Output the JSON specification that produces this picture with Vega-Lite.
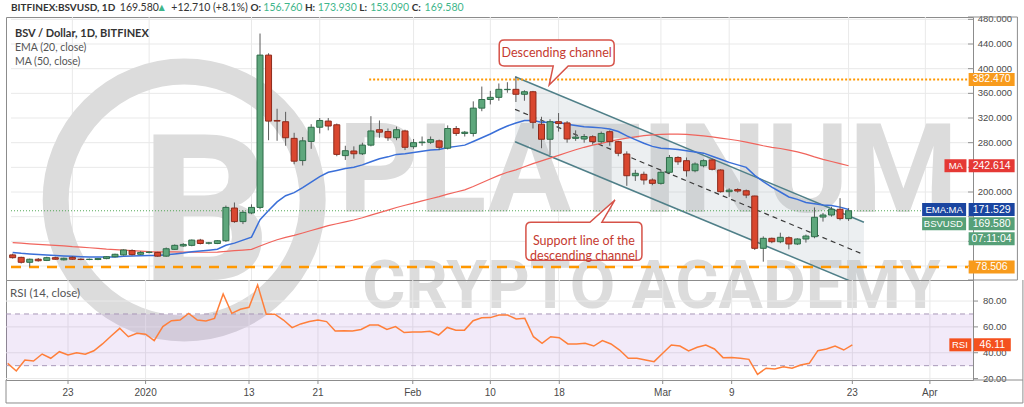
{
"$schema":"https://vega.github.io/schema/vega-lite/v6.json",
"background":"#ffffff",
"padding":{"left":3,"top":2,"right":2,"bottom":2},
"spacing":0,
"bounds":"flush",
"config":{"view":{"stroke":"#8c8c8c","strokeWidth":1}},
"datasets":{
"candles":[
{"date":"2019-12-16T00:00","o":98,"h":100,"l":92,"c":93.5,"ema":102,"ma":117.8,"rsi":31.8},
{"date":"2019-12-17T00:00","o":94,"h":95,"l":84,"c":86,"ema":100.5,"ma":117,"rsi":25.9},
{"date":"2019-12-18T00:00","o":86,"h":92,"l":79,"c":91,"ema":99.5,"ma":116,"rsi":34.4},
{"date":"2019-12-19T00:00","o":91,"h":93,"l":87,"c":88.5,"ema":98.5,"ma":115,"rsi":33.6},
{"date":"2019-12-20T00:00","o":89,"h":95,"l":88,"c":93.5,"ema":97.7,"ma":114.2,"rsi":39},
{"date":"2019-12-21T00:00","o":93.5,"h":95,"l":90,"c":91,"ema":97,"ma":113.5,"rsi":35.7},
{"date":"2019-12-22T00:00","o":90,"h":93.5,"l":89,"c":92.5,"ema":96.3,"ma":112.5,"rsi":40.8},
{"date":"2019-12-23T00:00","o":94,"h":96,"l":90,"c":91,"ema":95.8,"ma":111.3,"rsi":38.3},
{"date":"2019-12-24T00:00","o":91,"h":92.5,"l":89.5,"c":90.5,"ema":95.2,"ma":110.5,"rsi":40},
{"date":"2019-12-25T00:00","o":90.5,"h":92,"l":89.5,"c":91,"ema":94.7,"ma":109.6,"rsi":38.8},
{"date":"2019-12-26T00:00","o":90.5,"h":93,"l":89.5,"c":92,"ema":94.4,"ma":108.5,"rsi":41.5},
{"date":"2019-12-27T00:00","o":92,"h":96,"l":91,"c":95,"ema":94.4,"ma":107.3,"rsi":46.8},
{"date":"2019-12-28T00:00","o":95,"h":100,"l":94,"c":99,"ema":94.8,"ma":106.5,"rsi":53},
{"date":"2019-12-29T00:00","o":98,"h":107,"l":97,"c":106,"ema":95.8,"ma":105.6,"rsi":58.9},
{"date":"2019-12-30T00:00","o":105,"h":107,"l":97,"c":98.5,"ema":96.1,"ma":104.8,"rsi":52.4},
{"date":"2019-12-31T00:00","o":99,"h":104,"l":98,"c":102,"ema":96.7,"ma":104,"rsi":55},
{"date":"2020-01-01T00:00","o":102,"h":104,"l":100.5,"c":102.5,"ema":97.2,"ma":103.3,"rsi":54.3},
{"date":"2020-01-02T00:00","o":102,"h":103,"l":95,"c":96,"ema":97.1,"ma":103,"rsi":49.4},
{"date":"2020-01-03T00:00","o":96,"h":110,"l":95,"c":108,"ema":98.1,"ma":103,"rsi":60.2},
{"date":"2020-01-04T00:00","o":107,"h":115,"l":106,"c":113.5,"ema":99.6,"ma":102.8,"rsi":64.8},
{"date":"2020-01-05T00:00","o":112.5,"h":117,"l":111,"c":115,"ema":101.1,"ma":102.6,"rsi":65.3},
{"date":"2020-01-06T00:00","o":113.5,"h":123,"l":112,"c":122,"ema":103.1,"ma":102.4,"rsi":70.5},
{"date":"2020-01-07T00:00","o":122,"h":124,"l":115,"c":116.5,"ema":104.4,"ma":102.3,"rsi":65.3},
{"date":"2020-01-08T00:00","o":117,"h":119,"l":115,"c":117.5,"ema":105.6,"ma":102.3,"rsi":64.6},
{"date":"2020-01-09T00:00","o":116.5,"h":122,"l":115.5,"c":121,"ema":107.1,"ma":102.5,"rsi":66.6},
{"date":"2020-01-10T00:00","o":121,"h":178,"l":119,"c":175,"ema":113.6,"ma":103.8,"rsi":85.5},
{"date":"2020-01-11T00:00","o":174,"h":183,"l":150,"c":152,"ema":117.1,"ma":104.8,"rsi":70.5},
{"date":"2020-01-12T00:00","o":152,"h":170,"l":148,"c":167,"ema":121.9,"ma":105.8,"rsi":73.6},
{"date":"2020-01-13T00:00","o":166,"h":180,"l":164,"c":175,"ema":126.9,"ma":107,"rsi":75.2},
{"date":"2020-01-14T00:00","o":175,"h":457,"l":172,"c":422,"ema":155,"ma":112.5,"rsi":92.4},
{"date":"2020-01-15T00:00","o":422,"h":425,"l":284,"c":315,"ema":170,"ma":117.8,"rsi":69.8},
{"date":"2020-01-16T00:00","o":316,"h":335,"l":283,"c":315,"ema":184,"ma":122.5,"rsi":69.8},
{"date":"2020-01-17T00:00","o":314,"h":330,"l":275,"c":288,"ema":194,"ma":126.5,"rsi":65.3},
{"date":"2020-01-18T00:00","o":287,"h":296,"l":245,"c":250,"ema":199,"ma":129.7,"rsi":59.4},
{"date":"2020-01-19T00:00","o":251,"h":289,"l":243,"c":283,"ema":207,"ma":133.5,"rsi":62.3},
{"date":"2020-01-20T00:00","o":282,"h":310,"l":270,"c":305,"ema":216,"ma":137.5,"rsi":64.1},
{"date":"2020-01-21T00:00","o":305,"h":320,"l":295,"c":316,"ema":225,"ma":141.5,"rsi":65.3},
{"date":"2020-01-22T00:00","o":315,"h":320,"l":300,"c":307,"ema":232,"ma":145.5,"rsi":64.1},
{"date":"2020-01-23T00:00","o":309,"h":311,"l":258,"c":261,"ema":235,"ma":148.5,"rsi":56.8},
{"date":"2020-01-24T00:00","o":259,"h":275,"l":252,"c":267,"ema":238,"ma":151.5,"rsi":57},
{"date":"2020-01-25T00:00","o":266.5,"h":274,"l":254,"c":262,"ema":240,"ma":154.6,"rsi":56.8},
{"date":"2020-01-26T00:00","o":262,"h":280,"l":260,"c":276,"ema":244,"ma":158.2,"rsi":58},
{"date":"2020-01-27T00:00","o":276,"h":323,"l":274,"c":299,"ema":249,"ma":162.5,"rsi":61.5},
{"date":"2020-01-28T00:00","o":301,"h":316,"l":288,"c":297,"ema":254,"ma":166.5,"rsi":61.5},
{"date":"2020-01-29T00:00","o":298,"h":303,"l":283,"c":288,"ema":257,"ma":170.5,"rsi":58},
{"date":"2020-01-30T00:00","o":288,"h":306,"l":284,"c":301,"ema":261,"ma":174.8,"rsi":60.2},
{"date":"2020-01-31T00:00","o":299,"h":301,"l":268,"c":272.5,"ema":262,"ma":178.5,"rsi":55.6},
{"date":"2020-02-01T00:00","o":273.5,"h":286,"l":270,"c":280,"ema":264,"ma":182,"rsi":56},
{"date":"2020-02-02T00:00","o":280,"h":290,"l":275,"c":281,"ema":266,"ma":185.5,"rsi":56},
{"date":"2020-02-03T00:00","o":280.6,"h":290,"l":278,"c":285,"ema":268,"ma":189,"rsi":56.6},
{"date":"2020-02-04T00:00","o":283,"h":285,"l":268,"c":272.5,"ema":269,"ma":192.5,"rsi":53.7},
{"date":"2020-02-05T00:00","o":271,"h":308,"l":269,"c":303,"ema":272,"ma":196.5,"rsi":59.6},
{"date":"2020-02-06T00:00","o":303,"h":307,"l":291,"c":295,"ema":274,"ma":200,"rsi":57.5},
{"date":"2020-02-07T00:00","o":295,"h":299,"l":290,"c":297,"ema":276,"ma":203.5,"rsi":57.5},
{"date":"2020-02-08T00:00","o":295,"h":347,"l":290,"c":336,"ema":282,"ma":209,"rsi":64.8},
{"date":"2020-02-09T00:00","o":336,"h":371,"l":331,"c":350,"ema":288,"ma":215,"rsi":67},
{"date":"2020-02-10T00:00","o":350,"h":364,"l":342,"c":353.5,"ema":294,"ma":221,"rsi":67.2},
{"date":"2020-02-11T00:00","o":353.5,"h":376,"l":348,"c":366.5,"ema":301,"ma":227,"rsi":69.2},
{"date":"2020-02-12T00:00","o":366,"h":378,"l":361,"c":366.5,"ema":307,"ma":232,"rsi":69.2},
{"date":"2020-02-13T00:00","o":366.5,"h":387,"l":346,"c":358.5,"ema":312,"ma":236,"rsi":66.1},
{"date":"2020-02-14T00:00","o":358.5,"h":365,"l":348,"c":362.6,"ema":316,"ma":241,"rsi":66.6},
{"date":"2020-02-15T00:00","o":362.6,"h":364,"l":303,"c":313,"ema":316,"ma":246,"rsi":52.4},
{"date":"2020-02-16T00:00","o":310,"h":322,"l":271,"c":285.5,"ema":313,"ma":250.5,"rsi":47.3},
{"date":"2020-02-17T00:00","o":285.5,"h":318,"l":260,"c":314,"ema":313,"ma":255,"rsi":52.4},
{"date":"2020-02-18T00:00","o":314,"h":328,"l":298,"c":311,"ema":313,"ma":259.5,"rsi":51.6},
{"date":"2020-02-19T00:00","o":312,"h":315,"l":280,"c":286,"ema":310,"ma":264,"rsi":46.8},
{"date":"2020-02-20T00:00","o":287,"h":300,"l":283,"c":289,"ema":308,"ma":268.5,"rsi":46.8},
{"date":"2020-02-21T00:00","o":286,"h":294,"l":280,"c":290,"ema":306,"ma":272.5,"rsi":47.3},
{"date":"2020-02-22T00:00","o":289.7,"h":292,"l":277,"c":281.6,"ema":305,"ma":276,"rsi":45.2},
{"date":"2020-02-23T00:00","o":281.6,"h":298,"l":279,"c":295,"ema":304,"ma":279,"rsi":49.4},
{"date":"2020-02-24T00:00","o":297.8,"h":300,"l":275,"c":281.6,"ema":302,"ma":282,"rsi":46.8},
{"date":"2020-02-25T00:00","o":281.6,"h":283,"l":258,"c":262.8,"ema":298,"ma":285,"rsi":42.1},
{"date":"2020-02-26T00:00","o":261.6,"h":266,"l":210,"c":226.4,"ema":291,"ma":287.3,"rsi":35.7},
{"date":"2020-02-27T00:00","o":226.4,"h":236,"l":218,"c":230.3,"ema":285,"ma":289.5,"rsi":35.7},
{"date":"2020-02-28T00:00","o":228.7,"h":233,"l":212,"c":219.5,"ema":279,"ma":291.5,"rsi":34.4},
{"date":"2020-02-29T00:00","o":219.5,"h":222,"l":211,"c":214,"ema":274,"ma":292.6,"rsi":33.1},
{"date":"2020-03-01T00:00","o":214,"h":236,"l":212,"c":232,"ema":271,"ma":293.5,"rsi":39.6},
{"date":"2020-03-02T00:00","o":232,"h":260,"l":229,"c":256,"ema":270,"ma":294,"rsi":46},
{"date":"2020-03-03T00:00","o":256,"h":258,"l":244,"c":249,"ema":269,"ma":294,"rsi":45.2},
{"date":"2020-03-04T00:00","o":250.8,"h":256,"l":225,"c":234.5,"ema":267,"ma":293.3,"rsi":41.4},
{"date":"2020-03-05T00:00","o":234.5,"h":248,"l":232,"c":245.4,"ema":265,"ma":292.3,"rsi":44.2},
{"date":"2020-03-06T00:00","o":242.6,"h":253,"l":240,"c":250.8,"ema":263,"ma":291,"rsi":46},
{"date":"2020-03-07T00:00","o":252,"h":254,"l":235,"c":236.8,"ema":258,"ma":289.5,"rsi":42.9},
{"date":"2020-03-08T00:00","o":235.7,"h":237,"l":199,"c":200.5,"ema":253,"ma":287.5,"rsi":36.2},
{"date":"2020-03-09T00:00","o":200.5,"h":206,"l":192,"c":203,"ema":248,"ma":285.5,"rsi":36.4},
{"date":"2020-03-10T00:00","o":204,"h":206,"l":199,"c":201.6,"ema":244,"ma":283.5,"rsi":35.7},
{"date":"2020-03-11T00:00","o":202,"h":204,"l":190,"c":195,"ema":240,"ma":281,"rsi":34.9},
{"date":"2020-03-12T00:00","o":193.5,"h":194,"l":106,"c":108.7,"ema":227,"ma":278,"rsi":23.3},
{"date":"2020-03-13T00:00","o":108.7,"h":128,"l":87,"c":124.9,"ema":217,"ma":275,"rsi":28},
{"date":"2020-03-14T00:00","o":124.9,"h":126,"l":117,"c":119.4,"ema":208,"ma":272.5,"rsi":27.5},
{"date":"2020-03-15T00:00","o":119.4,"h":134,"l":117,"c":126.5,"ema":200,"ma":270.5,"rsi":29.2},
{"date":"2020-03-16T00:00","o":125.9,"h":128,"l":107,"c":115.7,"ema":192,"ma":268,"rsi":28},
{"date":"2020-03-17T00:00","o":115.7,"h":125,"l":114,"c":123.8,"ema":188,"ma":265,"rsi":30.5},
{"date":"2020-03-18T00:00","o":123.8,"h":131,"l":118,"c":128.6,"ema":183,"ma":261.5,"rsi":31.8},
{"date":"2020-03-19T00:00","o":127.5,"h":175,"l":125,"c":159,"ema":181,"ma":257,"rsi":41.6},
{"date":"2020-03-20T00:00","o":159.4,"h":166,"l":152,"c":162.7,"ema":179,"ma":253,"rsi":42.9},
{"date":"2020-03-21T00:00","o":162.7,"h":176,"l":160,"c":172,"ema":178,"ma":249.5,"rsi":45.2},
{"date":"2020-03-22T00:00","o":172,"h":190,"l":154,"c":156.9,"ema":175.5,"ma":246,"rsi":42.1},
{"date":"2020-03-23T00:00","o":156.76,"h":173.93,"l":153.09,"c":169.58,"ema":171.5,"ma":242.6,"rsi":46.11}
],
"labels":[
{"date":"2019-12-15T19:20","price":498.4,"txt":"BITFINEX:BSVUSD, 1D","kind":"symbol"},
{"date":"2019-12-28T13:35","price":498.4,"txt":"169.580","kind":"last"},
{"date":"2020-01-01T20:36","price":498.4,"txt":"▲","kind":"arrow"},
{"date":"2020-01-03T14:24","price":498.4,"txt":"+12.710 (+8.1%)","kind":"change"},
{"date":"2020-01-12T21:07","price":498.4,"txt":"O:","kind":"ohlcKey"},
{"date":"2020-01-14T09:20","price":498.4,"txt":"156.760","kind":"ohlcVal"},
{"date":"2020-01-19T06:14","price":498.4,"txt":"H:","kind":"ohlcKey"},
{"date":"2020-01-20T18:30","price":498.4,"txt":"173.930","kind":"ohlcVal"},
{"date":"2020-01-25T15:22","price":498.4,"txt":"L:","kind":"ohlcKey"},
{"date":"2020-01-26T21:50","price":498.4,"txt":"153.090","kind":"ohlcVal"},
{"date":"2020-01-31T18:43","price":498.4,"txt":"C:","kind":"ohlcKey"},
{"date":"2020-02-02T06:58","price":498.4,"txt":"169.580","kind":"ohlcVal"},
{"date":"2019-12-16T06:18","price":456.2,"txt":"BSV / Dollar, 1D, BITFINEX","kind":"paneTitle"},
{"date":"2019-12-16T06:18","price":433.5,"txt":"EMA (20, close)","kind":"indicator"},
{"date":"2019-12-16T06:18","price":410.8,"txt":"MA (50, close)","kind":"indicator"}
],
"gridDates":[
{"date":"2019-12-23T00:00","label":"23"},{"date":"2020-01-01T00:00","label":"2020"},{"date":"2020-01-13T00:00","label":"13"},{"date":"2020-01-21T00:00","label":"21"},{"date":"2020-02-01T00:00","label":"Feb"},{"date":"2020-02-10T00:00","label":"10"},{"date":"2020-02-18T00:00","label":"18"},{"date":"2020-03-01T00:00","label":"Mar"},{"date":"2020-03-09T00:00","label":"9"},{"date":"2020-03-23T00:00","label":"23"},{"date":"2020-04-01T00:00","label":"Apr"}
],
"gridPrice":[{"v":80},{"v":120},{"v":160},{"v":200},{"v":240},{"v":280},{"v":320},{"v":360},{"v":400},{"v":440},{"v":480}],
"gridRsi":[{"v":20},{"v":40},{"v":60},{"v":80}],
"channel":[
{"date":"2020-02-12T21:36","up":387,"lo":281.6,"mid":334},
{"date":"2020-03-24T19:12","up":151,"lo":46.4,"mid":98.4}
],
"callouts":[
{"kind":"channel","date":"2020-02-17T18:43","price":425.4,"txt":"Descending channel"},
{"kind":"support","date":"2020-02-20T23:20","price":120.2,"txt":["Support line of the","descending channel"]}
],
"tags":[
{"tag":"level","value":382.47,"txt":"382.470"},
{"tag":"MA","value":242.614,"txt":"242.614"},
{"tag":"EMA","value":171.529,"txt":"171.529"},
{"tag":"BSVUSD","value":169.58,"txt":"169.580"},
{"tag":"countdown","value":169.58,"txt":"07:11:04"},
{"tag":"level","value":78.506,"txt":"78.506"}
],
"names":[
{"tag":"MA","value":242.614,"txt":"MA"},
{"tag":"EMA","value":171.529,"txt":"EMA:MA"},
{"tag":"BSVUSD","value":169.58,"txt":"BSVUSD"}
],
"frameP":[
{"x":"2020-04-06T00:00","x2":"2020-04-11T19:00","y":483.8,"y2":483.8},
{"x":"2020-04-06T00:00","x2":"2020-04-11T19:00","y":57.3,"y2":57.3},
{"x":"2020-04-11T19:00","x2":"2020-04-11T19:00","y":57.3,"y2":483.8}
],
"frameR":[
{"x":"2020-04-06T00:00","x2":"2020-04-11T19:00","y":18.9,"y2":18.9},
{"x":"2020-04-11T19:00","x2":"2020-04-11T19:00","y":1.1,"y2":96.3},
{"x":"2019-12-15T19:20","x2":"2020-04-11T19:00","y":1.1,"y2":1.1},
{"x":"2019-12-15T19:20","x2":"2019-12-15T19:20","y":1.1,"y2":18.9}
]
},
"vconcat":[
{
"width":967,"height":263,
"layer":[
{"data":{"name":"gridPrice"},"mark":{"type":"rule","color":"#e9e9e9","strokeWidth":1},
"encoding":{"x":{"datum":{"year":2019,"month":12,"date":15,"hours":19,"minutes":20},"type":"temporal","scale":{"domain":[{"year":2019,"month":12,"date":15,"hours":19,"minutes":20},{"year":2020,"month":4,"date":6}]},"axis":null},"x2":{"datum":{"year":2020,"month":4,"date":6}},"y":{"field":"v","type":"quantitative","scale":{"domain":[57.3,483.8],"zero":false,"nice":false},"axis":null}}},
{"data":{"name":"gridDates"},"mark":{"type":"rule","color":"#e9e9e9","strokeWidth":1},
"encoding":{"x":{"field":"date","type":"temporal","scale":{"domain":[{"year":2019,"month":12,"date":15,"hours":19,"minutes":20},{"year":2020,"month":4,"date":6}]},"axis":null},"y":{"datum":57.3,"type":"quantitative","scale":{"domain":[57.3,483.8],"zero":false,"nice":false},"axis":null},"y2":{"datum":483.8}}},
{"data":{"values":[{}]},"mark":{"type":"point","shape":"circle","size":66052,"filled":false,"color":"#dcdcdc","strokeWidth":26,"opacity":1},
"encoding":{"x":{"datum":{"year":2020,"month":1,"date":5,"hours":2,"minutes":34},"type":"temporal","scale":{"domain":[{"year":2019,"month":12,"date":15,"hours":19,"minutes":20},{"year":2020,"month":4,"date":6}]},"axis":null},
"y":{"datum":187,"type":"quantitative","scale":{"domain":[57.3,483.8],"zero":false,"nice":false},"axis":null}}},
{"data":{"values":[{}]},"mark":{"type":"text","text":"B","font":"Roboto","fontWeight":"bold","fontSize":205,"color":"#dcdcdc","align":"center","baseline":"alphabetic"},
"encoding":{"x":{"datum":{"year":2020,"month":1,"date":7,"hours":16},"type":"temporal","scale":{"domain":[{"year":2019,"month":12,"date":15,"hours":19,"minutes":20},{"year":2020,"month":4,"date":6}]},"axis":null},"y":{"datum":57.3,"type":"quantitative","scale":{"domain":[57.3,483.8],"zero":false,"nice":false},"axis":null}}},
{"data":{"values":[{}]},"mark":{"type":"text","text":"PLATINUM","font":"Roboto","fontWeight":"bold","fontSize":125,"color":"#dcdcdc","align":"center","baseline":"alphabetic"},
"encoding":{"x":{"datum":{"year":2020,"month":2,"date":28,"hours":12},"type":"temporal","scale":{"domain":[{"year":2019,"month":12,"date":15,"hours":19,"minutes":20},{"year":2020,"month":4,"date":6}]},"axis":null},"y":{"datum":167.6,"type":"quantitative","scale":{"domain":[57.3,483.8],"zero":false,"nice":false},"axis":null}}},
{"data":{"values":[{}]},"mark":{"type":"text","text":"CRYPTO ACADEMY","font":"Roboto","fontWeight":"bold","fontSize":66,"color":"#dcdcdc","align":"center","baseline":"alphabetic"},
"encoding":{"x":{"datum":{"year":2020,"month":2,"date":28,"hours":21,"minutes":30},"type":"temporal","scale":{"domain":[{"year":2019,"month":12,"date":15,"hours":19,"minutes":20},{"year":2020,"month":4,"date":6}]},"axis":null},"y":{"datum":11.9,"type":"quantitative","scale":{"domain":[57.3,483.8],"zero":false,"nice":false},"axis":null}}},
{"data":{"name":"channel"},"mark":{"type":"area","color":"#aab4be","opacity":0.22,"clip":true},
"encoding":{"x":{"field":"date","type":"temporal","scale":{"domain":[{"year":2019,"month":12,"date":15,"hours":19,"minutes":20},{"year":2020,"month":4,"date":6}]},"axis":null},"y":{"field":"up","type":"quantitative","scale":{"domain":[57.3,483.8],"zero":false,"nice":false},"axis":null},"y2":{"field":"lo"}}},
{"data":{"name":"channel"},"mark":{"type":"line","color":"#4f7f88","strokeWidth":1.5},
"encoding":{"x":{"field":"date","type":"temporal","scale":{"domain":[{"year":2019,"month":12,"date":15,"hours":19,"minutes":20},{"year":2020,"month":4,"date":6}]},"axis":null},"y":{"field":"up","type":"quantitative","scale":{"domain":[57.3,483.8],"zero":false,"nice":false},"axis":null}}},
{"data":{"name":"channel"},"mark":{"type":"line","color":"#4f7f88","strokeWidth":1.5,"clip":true},
"encoding":{"x":{"field":"date","type":"temporal","scale":{"domain":[{"year":2019,"month":12,"date":15,"hours":19,"minutes":20},{"year":2020,"month":4,"date":6}]},"axis":null},"y":{"field":"lo","type":"quantitative","scale":{"domain":[57.3,483.8],"zero":false,"nice":false},"axis":null}}},
{"data":{"name":"channel"},"mark":{"type":"line","color":"#3a3a3a","strokeWidth":1.2,"strokeDash":[5,4]},
"encoding":{"x":{"field":"date","type":"temporal","scale":{"domain":[{"year":2019,"month":12,"date":15,"hours":19,"minutes":20},{"year":2020,"month":4,"date":6}]},"axis":null},"y":{"field":"mid","type":"quantitative","scale":{"domain":[57.3,483.8],"zero":false,"nice":false},"axis":null}}},
{"data":{"values":[{}]},"mark":{"type":"rule","color":"#ff9800","strokeWidth":2,"strokeDash":[2,2]},
"encoding":{"x":{"datum":{"year":2020,"month":1,"date":26,"hours":19},"type":"temporal","scale":{"domain":[{"year":2019,"month":12,"date":15,"hours":19,"minutes":20},{"year":2020,"month":4,"date":6}]},"axis":null},"x2":{"datum":{"year":2020,"month":4,"date":6}},"y":{"datum":382.47,"type":"quantitative","scale":{"domain":[57.3,483.8],"zero":false,"nice":false},"axis":null}}},
{"data":{"values":[{}]},"mark":{"type":"rule","color":"#ff9800","strokeWidth":2.5,"strokeDash":[10,8]},
"encoding":{"x":{"datum":{"year":2019,"month":12,"date":15,"hours":19,"minutes":20},"type":"temporal","scale":{"domain":[{"year":2019,"month":12,"date":15,"hours":19,"minutes":20},{"year":2020,"month":4,"date":6}]},"axis":null},"x2":{"datum":{"year":2020,"month":4,"date":6}},"y":{"datum":78.506,"type":"quantitative","scale":{"domain":[57.3,483.8],"zero":false,"nice":false},"axis":null}}},
{"data":{"values":[{}]},"mark":{"type":"rule","color":"#43a047","strokeWidth":1,"strokeDash":[1,2],"opacity":0.9},
"encoding":{"x":{"datum":{"year":2019,"month":12,"date":15,"hours":19,"minutes":20},"type":"temporal","scale":{"domain":[{"year":2019,"month":12,"date":15,"hours":19,"minutes":20},{"year":2020,"month":4,"date":6}]},"axis":null},"x2":{"datum":{"year":2020,"month":4,"date":6}},"y":{"datum":169.58,"type":"quantitative","scale":{"domain":[57.3,483.8],"zero":false,"nice":false},"axis":null}}},
{"data":{"name":"candles"},"mark":{"type":"line","color":"#f0645c","strokeWidth":1.2},
"encoding":{"x":{"field":"date","type":"temporal","scale":{"domain":[{"year":2019,"month":12,"date":15,"hours":19,"minutes":20},{"year":2020,"month":4,"date":6}]},"axis":null},"y":{"field":"ma","type":"quantitative","scale":{"domain":[57.3,483.8],"zero":false,"nice":false},"axis":null}}},
{"data":{"name":"candles"},"mark":{"type":"line","color":"#3a6fd8","strokeWidth":1.5},
"encoding":{"x":{"field":"date","type":"temporal","scale":{"domain":[{"year":2019,"month":12,"date":15,"hours":19,"minutes":20},{"year":2020,"month":4,"date":6}]},"axis":null},"y":{"field":"ema","type":"quantitative","scale":{"domain":[57.3,483.8],"zero":false,"nice":false},"axis":null}}},
{"data":{"name":"candles"},"mark":{"type":"rule","color":"#5c5c5c","strokeWidth":1},
"encoding":{"x":{"field":"date","type":"temporal","scale":{"domain":[{"year":2019,"month":12,"date":15,"hours":19,"minutes":20},{"year":2020,"month":4,"date":6}]},"axis":null},"y":{"field":"l","type":"quantitative","scale":{"domain":[57.3,483.8],"zero":false,"nice":false},"axis":null},"y2":{"field":"h"}}},
{"data":{"name":"candles"},"mark":{"type":"bar","width":6,"strokeWidth":1},
"encoding":{"x":{"field":"date","type":"temporal","scale":{"domain":[{"year":2019,"month":12,"date":15,"hours":19,"minutes":20},{"year":2020,"month":4,"date":6}]},"axis":null},"y":{"field":"o","type":"quantitative","scale":{"domain":[57.3,483.8],"zero":false,"nice":false},"axis":null},"y2":{"field":"c"},
"color":{"condition":{"test":"datum.c >= datum.o","value":"#5ea77c"},"value":"#d9472f"},
"stroke":{"condition":{"test":"datum.c >= datum.o","value":"#2f6d4a"},"value":"#8e2b1c"}}},
{"data":{"name":"gridPrice"},"mark":{"type":"rule","color":"#8c8c8c","strokeWidth":1},
"encoding":{"x":{"datum":{"year":2020,"month":4,"date":6},"type":"temporal","scale":{"domain":[{"year":2019,"month":12,"date":15,"hours":19,"minutes":20},{"year":2020,"month":4,"date":6}]},"axis":null},"x2":{"datum":{"year":2020,"month":4,"date":6,"hours":14}},"y":{"field":"v","type":"quantitative","scale":{"domain":[57.3,483.8],"zero":false,"nice":false},"axis":null}}},
{"data":{"name":"gridPrice"},"transform":[{"filter":"datum.v == 200 || datum.v >= 280"}],"mark":{"type":"text","font":"Liberation Sans","fontSize":9.5,"color":"#4a4a4a","align":"left","baseline":"middle"},
"encoding":{"x":{"datum":{"year":2020,"month":4,"date":7,"hours":3,"minutes":30},"type":"temporal","scale":{"domain":[{"year":2019,"month":12,"date":15,"hours":19,"minutes":20},{"year":2020,"month":4,"date":6}]},"axis":null},"y":{"field":"v","type":"quantitative","scale":{"domain":[57.3,483.8],"zero":false,"nice":false},"axis":null},"text":{"field":"v","type":"quantitative","format":".3f"}}},
{"data":{"name":"callouts"},"transform":[{"filter":"datum.kind == 'channel'"}],"mark":{"type":"point","shape":"M -0.875 -0.217 H 0.875 Q 0.958 -0.217 0.958 -0.134 V 0.134 Q 0.958 0.217 0.875 0.217 H 0.192 L -0.125 0.533 L -0.058 0.217 H -0.875 Q -0.958 0.217 -0.958 0.134 V -0.134 Q -0.958 -0.217 -0.875 -0.217 Z","size":14400,"filled":true,"fill":"#ffffff","stroke":"#d65248","strokeWidth":1.5,"opacity":1},
"encoding":{"x":{"field":"date","type":"temporal","scale":{"domain":[{"year":2019,"month":12,"date":15,"hours":19,"minutes":20},{"year":2020,"month":4,"date":6}]},"axis":null},"y":{"field":"price","type":"quantitative","scale":{"domain":[57.3,483.8],"zero":false,"nice":false},"axis":null}}},
{"data":{"name":"callouts"},"transform":[{"filter":"datum.kind == 'support'"}],"mark":{"type":"point","shape":"M -0.883 -0.317 H 0.1 L 0.517 -0.687 L 0.3 -0.317 H 0.883 Q 0.967 -0.317 0.967 -0.233 V 0.233 Q 0.967 0.317 0.883 0.317 H -0.883 Q -0.967 0.317 -0.967 0.233 V -0.233 Q -0.967 -0.317 -0.883 -0.317 Z","size":14400,"filled":true,"fill":"#ffffff","stroke":"#d65248","strokeWidth":1.5,"opacity":1},
"encoding":{"x":{"field":"date","type":"temporal","scale":{"domain":[{"year":2019,"month":12,"date":15,"hours":19,"minutes":20},{"year":2020,"month":4,"date":6}]},"axis":null},"y":{"field":"price","type":"quantitative","scale":{"domain":[57.3,483.8],"zero":false,"nice":false},"axis":null}}},
{"data":{"name":"callouts"},"mark":{"type":"text","font":"Lato","fontSize":12.5,"color":"#c53a30","align":"center","baseline":"middle","lineHeight":15},
"encoding":{"x":{"field":"date","type":"temporal","scale":{"domain":[{"year":2019,"month":12,"date":15,"hours":19,"minutes":20},{"year":2020,"month":4,"date":6}]},"axis":null},"y":{"field":"price","type":"quantitative","scale":{"domain":[57.3,483.8],"zero":false,"nice":false},"axis":null},"text":{"field":"txt"}}},
{"data":{"name":"labels"},"transform":[{"filter":"datum.kind != 'symbol' && datum.kind != 'ohlcKey' && datum.kind != 'paneTitle'"}],"mark":{"type":"text","font":"Lato","fontSize":10.5,"align":"left","baseline":"middle"},
"encoding":{"x":{"field":"date","type":"temporal","scale":{"domain":[{"year":2019,"month":12,"date":15,"hours":19,"minutes":20},{"year":2020,"month":4,"date":6}]},"axis":null},"y":{"field":"price","type":"quantitative","scale":{"domain":[57.3,483.8],"zero":false,"nice":false},"axis":null},"text":{"field":"txt"},
"color":{"condition":[{"test":"datum.kind == 'arrow' || datum.kind == 'ohlcVal'","value":"#3fb68b"},{"test":"datum.kind == 'indicator'","value":"#555555"}],"value":"#333333"}}},
{"data":{"name":"labels"},"transform":[{"filter":"datum.kind == 'symbol' || datum.kind == 'ohlcKey'"}],"mark":{"type":"text","font":"Lato","fontSize":10,"fontWeight":"bold","align":"left","baseline":"middle","color":"#333333"},
"encoding":{"x":{"field":"date","type":"temporal","scale":{"domain":[{"year":2019,"month":12,"date":15,"hours":19,"minutes":20},{"year":2020,"month":4,"date":6}]},"axis":null},"y":{"field":"price","type":"quantitative","scale":{"domain":[57.3,483.8],"zero":false,"nice":false},"axis":null},"text":{"field":"txt"}}},
{"data":{"name":"labels"},"transform":[{"filter":"datum.kind == 'paneTitle'"}],"mark":{"type":"text","font":"Lato","fontSize":11,"fontWeight":"bold","align":"left","baseline":"middle","color":"#333333"},
"encoding":{"x":{"field":"date","type":"temporal","scale":{"domain":[{"year":2019,"month":12,"date":15,"hours":19,"minutes":20},{"year":2020,"month":4,"date":6}]},"axis":null},"y":{"field":"price","type":"quantitative","scale":{"domain":[57.3,483.8],"zero":false,"nice":false},"axis":null},"text":{"field":"txt"}}},
{"data":{"name":"tags"},"transform":[{"filter":"datum.tag == 'level' || datum.tag == 'MA' || datum.tag == 'EMA'"}],"mark":{"type":"point","shape":"M -1 -0.283 H 1 V 0.283 H -1 Z","size":2116,"filled":true,"opacity":1},
"encoding":{"x":{"datum":{"year":2020,"month":4,"date":8,"hours":18,"minutes":30},"type":"temporal","scale":{"domain":[{"year":2019,"month":12,"date":15,"hours":19,"minutes":20},{"year":2020,"month":4,"date":6}]},"axis":null},"y":{"field":"value","type":"quantitative","scale":{"domain":[57.3,483.8],"zero":false,"nice":false},"axis":null},
"color":{"condition":[{"test":"datum.tag == 'MA'","value":"#e53935"},{"test":"datum.tag == 'EMA'","value":"#1a45a0"}],"value":"#f89b1c"}}},
{"data":{"name":"tags"},"transform":[{"filter":"datum.tag == 'BSVUSD'"}],"mark":{"type":"point","shape":"M -1 -0.283 H 1 V 0.283 H -1 Z","size":2116,"filled":true,"opacity":1,"color":"#56a078","yOffset":13},
"encoding":{"x":{"datum":{"year":2020,"month":4,"date":8,"hours":18,"minutes":30},"type":"temporal","scale":{"domain":[{"year":2019,"month":12,"date":15,"hours":19,"minutes":20},{"year":2020,"month":4,"date":6}]},"axis":null},"y":{"field":"value","type":"quantitative","scale":{"domain":[57.3,483.8],"zero":false,"nice":false},"axis":null}}},
{"data":{"name":"tags"},"transform":[{"filter":"datum.tag == 'countdown'"}],"mark":{"type":"point","shape":"M -1 -0.283 H 1 V 0.283 H -1 Z","size":2116,"filled":true,"opacity":1,"color":"#56a078","yOffset":28},
"encoding":{"x":{"datum":{"year":2020,"month":4,"date":8,"hours":18,"minutes":30},"type":"temporal","scale":{"domain":[{"year":2019,"month":12,"date":15,"hours":19,"minutes":20},{"year":2020,"month":4,"date":6}]},"axis":null},"y":{"field":"value","type":"quantitative","scale":{"domain":[57.3,483.8],"zero":false,"nice":false},"axis":null}}},
{"data":{"name":"tags"},"transform":[{"filter":"datum.tag == 'level' || datum.tag == 'MA' || datum.tag == 'EMA'"}],"mark":{"type":"text","font":"Liberation Sans","fontSize":10.5,"color":"#ffffff","align":"center","baseline":"middle"},
"encoding":{"x":{"datum":{"year":2020,"month":4,"date":8,"hours":18,"minutes":30},"type":"temporal","scale":{"domain":[{"year":2019,"month":12,"date":15,"hours":19,"minutes":20},{"year":2020,"month":4,"date":6}]},"axis":null},"y":{"field":"value","type":"quantitative","scale":{"domain":[57.3,483.8],"zero":false,"nice":false},"axis":null},"text":{"field":"txt"}}},
{"data":{"name":"tags"},"transform":[{"filter":"datum.tag == 'BSVUSD'"}],"mark":{"type":"text","font":"Liberation Sans","fontSize":10.5,"color":"#ffffff","align":"center","baseline":"middle","yOffset":13},
"encoding":{"x":{"datum":{"year":2020,"month":4,"date":8,"hours":18,"minutes":30},"type":"temporal","scale":{"domain":[{"year":2019,"month":12,"date":15,"hours":19,"minutes":20},{"year":2020,"month":4,"date":6}]},"axis":null},"y":{"field":"value","type":"quantitative","scale":{"domain":[57.3,483.8],"zero":false,"nice":false},"axis":null},"text":{"field":"txt"}}},
{"data":{"name":"tags"},"transform":[{"filter":"datum.tag == 'countdown'"}],"mark":{"type":"text","font":"Liberation Sans","fontSize":10.5,"color":"#ffffff","align":"center","baseline":"middle","yOffset":28},
"encoding":{"x":{"datum":{"year":2020,"month":4,"date":8,"hours":18,"minutes":30},"type":"temporal","scale":{"domain":[{"year":2019,"month":12,"date":15,"hours":19,"minutes":20},{"year":2020,"month":4,"date":6}]},"axis":null},"y":{"field":"value","type":"quantitative","scale":{"domain":[57.3,483.8],"zero":false,"nice":false},"axis":null},"text":{"field":"txt"}}},
{"data":{"name":"names"},"transform":[{"filter":"datum.tag == 'MA'"}],"mark":{"type":"point","shape":"M -1 -0.59 H 1 V 0.59 H -1 Z","size":484,"filled":true,"opacity":1,"color":"#e53935"},
"encoding":{"x":{"datum":{"year":2020,"month":4,"date":4,"hours":12,"minutes":45},"type":"temporal","scale":{"domain":[{"year":2019,"month":12,"date":15,"hours":19,"minutes":20},{"year":2020,"month":4,"date":6}]},"axis":null},"y":{"field":"value","type":"quantitative","scale":{"domain":[57.3,483.8],"zero":false,"nice":false},"axis":null}}},
{"data":{"name":"names"},"transform":[{"filter":"datum.tag == 'EMA'"}],"mark":{"type":"point","shape":"M -1 -0.295 H 1 V 0.295 H -1 Z","size":1936,"filled":true,"opacity":1,"color":"#1a45a0"},
"encoding":{"x":{"datum":{"year":2020,"month":4,"date":3,"hours":4,"minutes":48},"type":"temporal","scale":{"domain":[{"year":2019,"month":12,"date":15,"hours":19,"minutes":20},{"year":2020,"month":4,"date":6}]},"axis":null},"y":{"field":"value","type":"quantitative","scale":{"domain":[57.3,483.8],"zero":false,"nice":false},"axis":null}}},
{"data":{"name":"names"},"transform":[{"filter":"datum.tag == 'BSVUSD'"}],"mark":{"type":"point","shape":"M -1 -0.295 H 1 V 0.295 H -1 Z","size":1936,"filled":true,"opacity":1,"color":"#56a078","yOffset":13},
"encoding":{"x":{"datum":{"year":2020,"month":4,"date":3,"hours":4,"minutes":48},"type":"temporal","scale":{"domain":[{"year":2019,"month":12,"date":15,"hours":19,"minutes":20},{"year":2020,"month":4,"date":6}]},"axis":null},"y":{"field":"value","type":"quantitative","scale":{"domain":[57.3,483.8],"zero":false,"nice":false},"axis":null}}},
{"data":{"name":"names"},"transform":[{"filter":"datum.tag != 'BSVUSD'"}],"mark":{"type":"text","font":"Liberation Sans","fontSize":9.5,"color":"#ffffff","align":"right","baseline":"middle"},
"encoding":{"x":{"datum":{"year":2020,"month":4,"date":5,"hours":9,"minutes":36},"type":"temporal","scale":{"domain":[{"year":2019,"month":12,"date":15,"hours":19,"minutes":20},{"year":2020,"month":4,"date":6}]},"axis":null},"y":{"field":"value","type":"quantitative","scale":{"domain":[57.3,483.8],"zero":false,"nice":false},"axis":null},"text":{"field":"txt"}}},
{"data":{"name":"names"},"transform":[{"filter":"datum.tag == 'BSVUSD'"}],"mark":{"type":"text","font":"Liberation Sans","fontSize":9.5,"color":"#ffffff","align":"right","baseline":"middle","yOffset":13},
"encoding":{"x":{"datum":{"year":2020,"month":4,"date":5,"hours":9,"minutes":36},"type":"temporal","scale":{"domain":[{"year":2019,"month":12,"date":15,"hours":19,"minutes":20},{"year":2020,"month":4,"date":6}]},"axis":null},"y":{"field":"value","type":"quantitative","scale":{"domain":[57.3,483.8],"zero":false,"nice":false},"axis":null},"text":{"field":"txt"}}},
{"data":{"name":"frameP"},"mark":{"type":"rule","color":"#8c8c8c","strokeWidth":1},
"encoding":{"x":{"field":"x","type":"temporal","scale":{"domain":[{"year":2019,"month":12,"date":15,"hours":19,"minutes":20},{"year":2020,"month":4,"date":6}]},"axis":null},"x2":{"field":"x2"},"y":{"field":"y","type":"quantitative","scale":{"domain":[57.3,483.8],"zero":false,"nice":false},"axis":null},"y2":{"field":"y2"}}}
]
},
{
"width":967,"height":100,
"layer":[
{"data":{"name":"gridRsi"},"mark":{"type":"rule","color":"#e9e9e9","strokeWidth":1},
"encoding":{"x":{"datum":{"year":2019,"month":12,"date":15,"hours":19,"minutes":20},"type":"temporal","scale":{"domain":[{"year":2019,"month":12,"date":15,"hours":19,"minutes":20},{"year":2020,"month":4,"date":6}]},"axis":null},"x2":{"datum":{"year":2020,"month":4,"date":6}},"y":{"field":"v","type":"quantitative","scale":{"domain":[18.9,96.3],"zero":false,"nice":false},"axis":null}}},
{"data":{"name":"gridDates"},"mark":{"type":"rule","color":"#e9e9e9","strokeWidth":1},
"encoding":{"x":{"field":"date","type":"temporal","scale":{"domain":[{"year":2019,"month":12,"date":15,"hours":19,"minutes":20},{"year":2020,"month":4,"date":6}]},"axis":null},"y":{"datum":18.9,"type":"quantitative","scale":{"domain":[18.9,96.3],"zero":false,"nice":false},"axis":null},"y2":{"datum":96.3}}},
{"data":{"values":[{}]},"mark":{"type":"rect","color":"#9b59d0","opacity":0.13},
"encoding":{"x":{"datum":{"year":2019,"month":12,"date":15,"hours":19,"minutes":20},"type":"temporal","scale":{"domain":[{"year":2019,"month":12,"date":15,"hours":19,"minutes":20},{"year":2020,"month":4,"date":6}]},"axis":null},
"x2":{"datum":{"year":2020,"month":4,"date":6}},
"y":{"datum":30,"type":"quantitative","scale":{"domain":[18.9,96.3],"zero":false,"nice":false},"axis":null},
"y2":{"datum":70}}},
{"data":{"values":[{"v":30},{"v":70}]},"mark":{"type":"rule","color":"#a898b8","strokeWidth":1,"strokeDash":[5,4]},
"encoding":{"x":{"datum":{"year":2019,"month":12,"date":15,"hours":19,"minutes":20},"type":"temporal","scale":{"domain":[{"year":2019,"month":12,"date":15,"hours":19,"minutes":20},{"year":2020,"month":4,"date":6}]},"axis":null},"x2":{"datum":{"year":2020,"month":4,"date":6}},"y":{"field":"v","type":"quantitative","scale":{"domain":[18.9,96.3],"zero":false,"nice":false},"axis":null}}},
{"data":{"name":"candles"},"mark":{"type":"line","color":"#ff7f3a","strokeWidth":1.5},
"encoding":{"x":{"field":"date","type":"temporal","scale":{"domain":[{"year":2019,"month":12,"date":15,"hours":19,"minutes":20},{"year":2020,"month":4,"date":6}]},"axis":null},"y":{"field":"rsi","type":"quantitative","scale":{"domain":[18.9,96.3],"zero":false,"nice":false},"axis":null}}},
{"data":{"values":[{}]},"mark":{"type":"text","text":"RSI (14, close)","font":"Lato","fontSize":11.5,"color":"#555555","align":"left","baseline":"middle"},
"encoding":{"x":{"datum":{"year":2019,"month":12,"date":16,"hours":6,"minutes":18},"type":"temporal","scale":{"domain":[{"year":2019,"month":12,"date":15,"hours":19,"minutes":20},{"year":2020,"month":4,"date":6}]},"axis":null},"y":{"datum":85.5,"type":"quantitative","scale":{"domain":[18.9,96.3],"zero":false,"nice":false},"axis":null}}},
{"data":{"name":"gridRsi"},"mark":{"type":"rule","color":"#8c8c8c","strokeWidth":1},
"encoding":{"x":{"datum":{"year":2020,"month":4,"date":6},"type":"temporal","scale":{"domain":[{"year":2019,"month":12,"date":15,"hours":19,"minutes":20},{"year":2020,"month":4,"date":6}]},"axis":null},"x2":{"datum":{"year":2020,"month":4,"date":6,"hours":14}},"y":{"field":"v","type":"quantitative","scale":{"domain":[18.9,96.3],"zero":false,"nice":false},"axis":null}}},
{"data":{"name":"gridRsi"},"mark":{"type":"text","font":"Liberation Sans","fontSize":9.5,"color":"#4a4a4a","align":"left","baseline":"middle"},
"encoding":{"x":{"datum":{"year":2020,"month":4,"date":7,"hours":3,"minutes":30},"type":"temporal","scale":{"domain":[{"year":2019,"month":12,"date":15,"hours":19,"minutes":20},{"year":2020,"month":4,"date":6}]},"axis":null},"y":{"field":"v","type":"quantitative","scale":{"domain":[18.9,96.3],"zero":false,"nice":false},"axis":null},"text":{"field":"v","type":"quantitative","format":".2f"}}},
{"data":{"name":"gridDates"},"mark":{"type":"rule","color":"#8c8c8c","strokeWidth":1},
"encoding":{"x":{"field":"date","type":"temporal","scale":{"domain":[{"year":2019,"month":12,"date":15,"hours":19,"minutes":20},{"year":2020,"month":4,"date":6}]},"axis":null},"y":{"datum":18.9,"type":"quantitative","scale":{"domain":[18.9,96.3],"zero":false,"nice":false},"axis":null},"y2":{"datum":15.8}}},
{"data":{"name":"gridDates"},"mark":{"type":"text","font":"Liberation Sans","fontSize":10,"color":"#4a4a4a","align":"center","baseline":"middle"},
"encoding":{"x":{"field":"date","type":"temporal","scale":{"domain":[{"year":2019,"month":12,"date":15,"hours":19,"minutes":20},{"year":2020,"month":4,"date":6}]},"axis":null},"y":{"datum":8.8,"type":"quantitative","scale":{"domain":[18.9,96.3],"zero":false,"nice":false},"axis":null},"text":{"field":"label"}}},
{"data":{"values":[{"value":46.11,"txt":"46.11","name":"RSI"}]},"mark":{"type":"point","shape":"M -1 -0.59 H 1 V 0.59 H -1 Z","size":484,"filled":true,"opacity":1,"color":"#f4511e"},
"encoding":{"x":{"datum":{"year":2020,"month":4,"date":4,"hours":12,"minutes":45},"type":"temporal","scale":{"domain":[{"year":2019,"month":12,"date":15,"hours":19,"minutes":20},{"year":2020,"month":4,"date":6}]},"axis":null},"y":{"field":"value","type":"quantitative","scale":{"domain":[18.9,96.3],"zero":false,"nice":false},"axis":null}}},
{"data":{"values":[{"value":46.11,"txt":"46.11","name":"RSI"}]},"mark":{"type":"point","shape":"M -1 -0.351 H 1 V 0.351 H -1 Z","size":1369,"filled":true,"opacity":1,"color":"#f4511e"},
"encoding":{"x":{"datum":{"year":2020,"month":4,"date":8,"hours":5,"minutes":45},"type":"temporal","scale":{"domain":[{"year":2019,"month":12,"date":15,"hours":19,"minutes":20},{"year":2020,"month":4,"date":6}]},"axis":null},"y":{"field":"value","type":"quantitative","scale":{"domain":[18.9,96.3],"zero":false,"nice":false},"axis":null}}},
{"data":{"values":[{"value":46.11,"txt":"46.11","name":"RSI"}]},"mark":{"type":"text","font":"Liberation Sans","fontSize":9.5,"color":"#ffffff","align":"right","baseline":"middle"},
"encoding":{"x":{"datum":{"year":2020,"month":4,"date":5,"hours":9,"minutes":36},"type":"temporal","scale":{"domain":[{"year":2019,"month":12,"date":15,"hours":19,"minutes":20},{"year":2020,"month":4,"date":6}]},"axis":null},"y":{"field":"value","type":"quantitative","scale":{"domain":[18.9,96.3],"zero":false,"nice":false},"axis":null},"text":{"field":"name"}}},
{"data":{"values":[{"value":46.11,"txt":"46.11","name":"RSI"}]},"mark":{"type":"text","font":"Liberation Sans","fontSize":10.5,"color":"#ffffff","align":"center","baseline":"middle"},
"encoding":{"x":{"datum":{"year":2020,"month":4,"date":8,"hours":5,"minutes":45},"type":"temporal","scale":{"domain":[{"year":2019,"month":12,"date":15,"hours":19,"minutes":20},{"year":2020,"month":4,"date":6}]},"axis":null},"y":{"field":"value","type":"quantitative","scale":{"domain":[18.9,96.3],"zero":false,"nice":false},"axis":null},"text":{"field":"txt"}}},
{"data":{"name":"frameR"},"mark":{"type":"rule","color":"#8c8c8c","strokeWidth":1},
"encoding":{"x":{"field":"x","type":"temporal","scale":{"domain":[{"year":2019,"month":12,"date":15,"hours":19,"minutes":20},{"year":2020,"month":4,"date":6}]},"axis":null},"x2":{"field":"x2"},"y":{"field":"y","type":"quantitative","scale":{"domain":[18.9,96.3],"zero":false,"nice":false},"axis":null},"y2":{"field":"y2"}}}
]
}
]
}
